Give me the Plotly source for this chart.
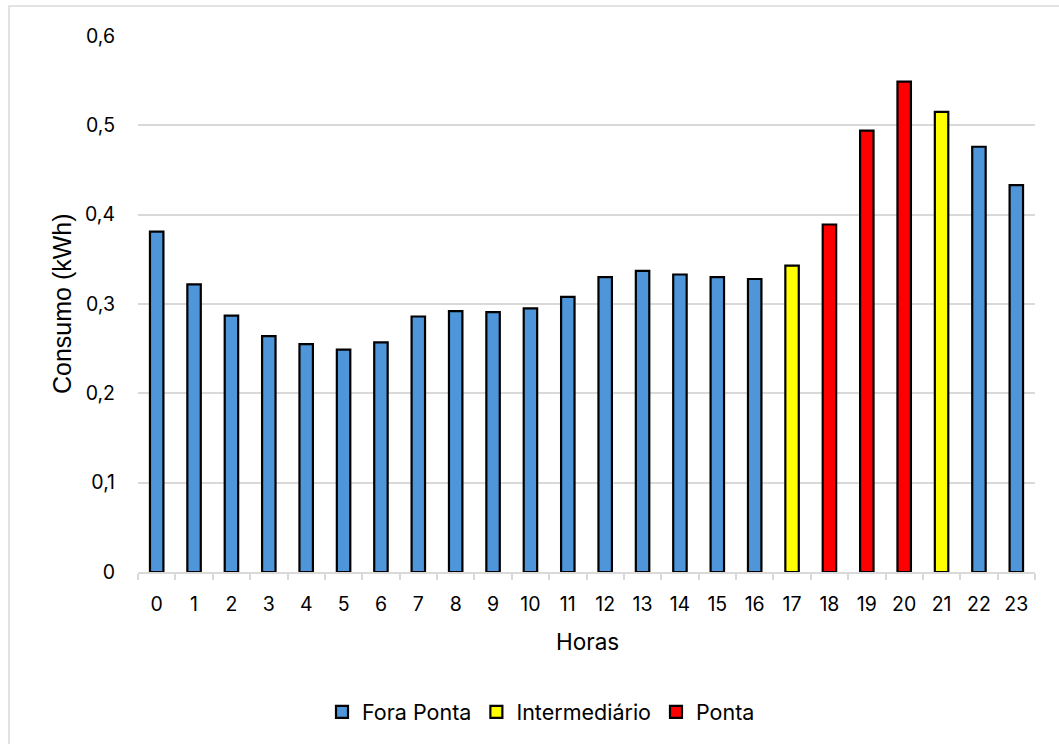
import plotly.graph_objects as go

# Hourly consumption profile, grouped by tariff period
hours = [str(h) for h in range(24)]
consumo = [0.381, 0.322, 0.287, 0.264, 0.255, 0.249, 0.257, 0.286, 0.292, 0.291,
           0.295, 0.308, 0.330, 0.337, 0.333, 0.330, 0.328, 0.343, 0.389, 0.494,
           0.549, 0.515, 0.476, 0.433]
periodo = ["Fora Ponta"] * 17 + ["Intermediário", "Ponta", "Ponta", "Ponta",
                                  "Intermediário", "Fora Ponta", "Fora Ponta"]
series_names = ["Fora Ponta", "Intermediário", "Ponta"]
series_colors = {"Fora Ponta": "#4E95D9", "Intermediário": "#FFFF00", "Ponta": "#FF0000"}
y_ticks = [0, 0.1, 0.2, 0.3, 0.4, 0.5, 0.6]

FONT = "Inter"
GRID = "#D9D9D9"

fig = go.Figure()
for name in series_names:
    xs = [h for h, p in zip(hours, periodo) if p == name]
    ys = [v for v, p in zip(consumo, periodo) if p == name]
    fig.add_trace(go.Bar(
        x=xs, y=ys, name=name, width=0.36,
        marker=dict(color=series_colors[name], line=dict(color="#000000", width=2.2)),
    ))

# plot area in pixels: x 138..1035, y 36..572
L, R, T, B = 138, 24, 36, 172
W, H = 1059 - L - R, 744 - T - B


def px(xp):
    return (xp - L) / W


def py(yp):
    return (744 - B - yp) / H


fig.update_layout(
    width=1059, height=744,
    margin=dict(l=L, r=R, t=T, b=B),
    paper_bgcolor="white", plot_bgcolor="white",
    barmode="overlay",
    separators=",.",
    font=dict(family=FONT, size=19, color="#000000"),
    showlegend=True,
    legend=dict(
        orientation="h", x=px(541), xanchor="center", y=py(712), yanchor="middle",
        font=dict(family=FONT, size=21.5), itemwidth=30, traceorder="normal",
        bgcolor="rgba(0,0,0,0)",
    ),
    xaxis=dict(
        type="category", categoryorder="array", categoryarray=hours,
        showline=True, linecolor=GRID, linewidth=1.5,
        ticks="outside", tickson="boundaries", ticklen=6, tickcolor=GRID, tickwidth=1.5,
        ticklabelstandoff=14, showgrid=False, tickfont=dict(size=19.5),
    ),
    yaxis=dict(
        range=[0, 0.6], tickvals=y_ticks, showgrid=True, gridcolor=GRID, gridwidth=1.5,
        zeroline=False, showline=False, ticks="", ticklabelstandoff=22,
        tickfont=dict(size=19.5),
    ),
    shapes=[dict(
        type="rect", xref="paper", yref="paper",
        x0=px(9), x1=px(1075), y0=py(760), y1=py(6),
        line=dict(color="#D9D9D9", width=1.5), fillcolor="rgba(0,0,0,0)", layer="below",
    )],
    annotations=[
        dict(text="Horas", xref="paper", yref="paper", x=px(587), y=py(641),
             xanchor="center", yanchor="middle", showarrow=False,
             font=dict(family=FONT, size=22.5)),
        dict(text="Consumo (kWh)", xref="paper", yref="paper", x=px(62), y=py(304),
             xanchor="center", yanchor="middle", showarrow=False, textangle=-90,
             font=dict(family="Liberation Sans", size=25)),
    ],
)

fig.write_html("out.html")
